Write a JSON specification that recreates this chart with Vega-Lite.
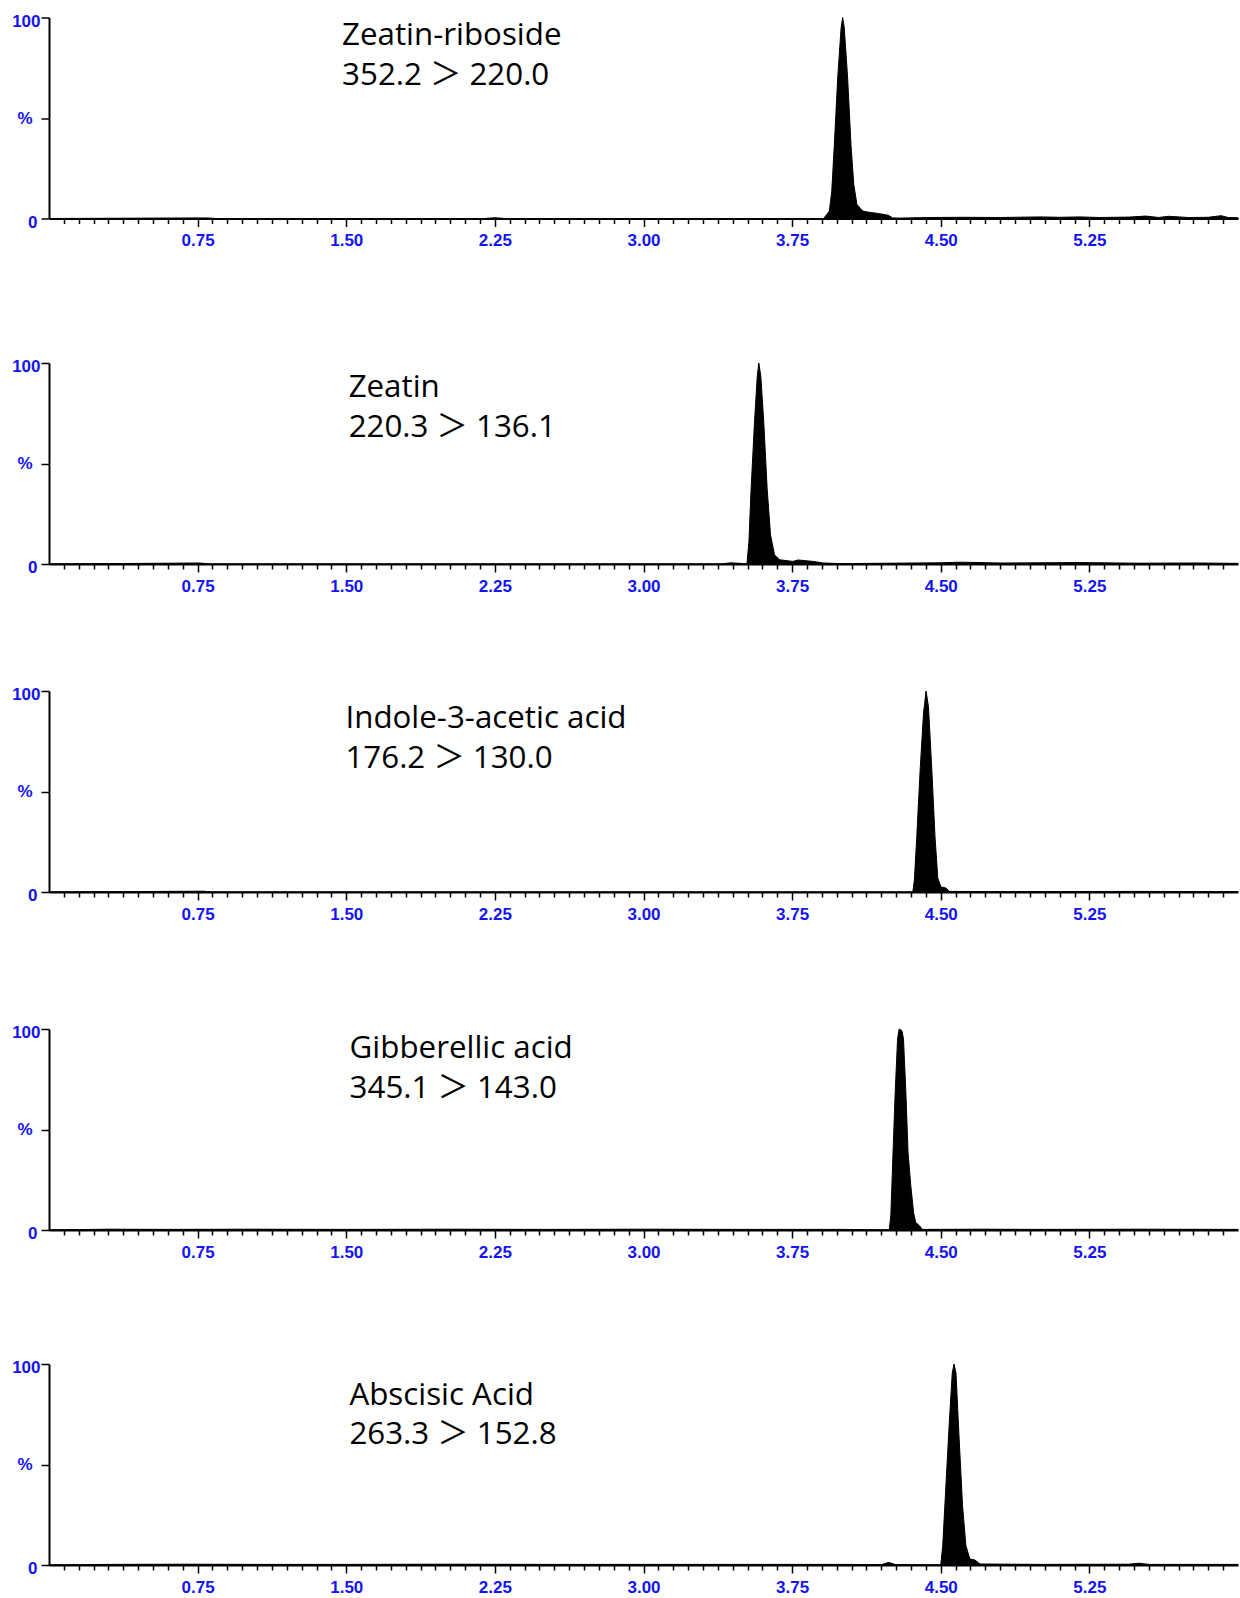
{
  "$schema": "https://vega.github.io/schema/vega-lite/v6.json",
  "padding": {"left": 11, "top": 11.5, "right": 2, "bottom": 0},
  "background": "white",
  "config": {
    "view": {"stroke": null},
    "axis": {
      "domainColor": "black", "domainWidth": 2, "tickColor": "black", "tickWidth": 1.5,
      "labelColor": "#1414f0", "labelFont": "Liberation Sans", "labelFontWeight": "bold", "labelFontSize": 17,
      "grid": false, "title": null, "labelOverlap": false, "labelFlush": false
    },
    "text": {"font": "Open Sans, Noto Sans CJK SC", "fontSize": 31.3, "align": "left", "baseline": "alphabetic", "color": "black"},
    "area": {"color": "black", "stroke": "black", "strokeWidth": 1, "interpolate": "linear"}
  },
  "datasets": {
    "p1": [
      {"t": 0, "pct": 0}, {"t": 0.8, "pct": 0.3}, {"t": 0.84, "pct": 0}, {"t": 2.2, "pct": 0}, {"t": 2.25, "pct": 0.4}, {"t": 2.3, "pct": 0},
      {"t": 3.85, "pct": 0}, {"t": 3.909, "pct": 0}, {"t": 3.938, "pct": 3.7}, {"t": 3.95, "pct": 13.6}, {"t": 3.963, "pct": 36.8},
      {"t": 3.98, "pct": 69.9}, {"t": 3.997, "pct": 94.7}, {"t": 4.005, "pct": 100}, {"t": 4.013, "pct": 95}, {"t": 4.03, "pct": 70},
      {"t": 4.047, "pct": 36.8}, {"t": 4.061, "pct": 17}, {"t": 4.077, "pct": 7}, {"t": 4.106, "pct": 3.7}, {"t": 4.131, "pct": 3.2},
      {"t": 4.198, "pct": 2.3}, {"t": 4.235, "pct": 1.6}, {"t": 4.258, "pct": 0.3}, {"t": 4.3, "pct": 0.2}, {"t": 4.45, "pct": 0.5},
      {"t": 4.6, "pct": 0.6}, {"t": 4.8, "pct": 0.5}, {"t": 5.0, "pct": 0.8}, {"t": 5.1, "pct": 0.6}, {"t": 5.2, "pct": 0.8},
      {"t": 5.3, "pct": 0.5}, {"t": 5.45, "pct": 0.7}, {"t": 5.536, "pct": 1.2}, {"t": 5.6, "pct": 0.5}, {"t": 5.648, "pct": 1.1},
      {"t": 5.75, "pct": 0.5}, {"t": 5.85, "pct": 0.6}, {"t": 5.915, "pct": 1.4}, {"t": 5.95, "pct": 0.5}, {"t": 6.0, "pct": 0.4}
    ],
    "p2": [
      {"t": 0, "pct": 0}, {"t": 0.76, "pct": 0.5}, {"t": 0.81, "pct": 0}, {"t": 3.39, "pct": 0}, {"t": 3.44, "pct": 0.6}, {"t": 3.49, "pct": 0.3},
      {"t": 3.522, "pct": 0}, {"t": 3.532, "pct": 11.2}, {"t": 3.543, "pct": 37.5}, {"t": 3.56, "pct": 70.4}, {"t": 3.574, "pct": 93.4},
      {"t": 3.582, "pct": 100}, {"t": 3.592, "pct": 93.4}, {"t": 3.607, "pct": 70.4}, {"t": 3.624, "pct": 37.5}, {"t": 3.641, "pct": 14.5},
      {"t": 3.661, "pct": 4.6}, {"t": 3.686, "pct": 2.1}, {"t": 3.754, "pct": 1.3}, {"t": 3.78, "pct": 2.0}, {"t": 3.855, "pct": 1.3},
      {"t": 3.906, "pct": 0.5}, {"t": 4.0, "pct": 0.2}, {"t": 4.5, "pct": 0.6}, {"t": 4.6, "pct": 0.9}, {"t": 4.8, "pct": 0.5},
      {"t": 5.0, "pct": 0.6}, {"t": 5.2, "pct": 0.7}, {"t": 5.5, "pct": 0.4}, {"t": 5.8, "pct": 0.5}, {"t": 6.0, "pct": 0.3}
    ],
    "p3": [
      {"t": 0, "pct": 0}, {"t": 0.78, "pct": 0.4}, {"t": 0.82, "pct": 0}, {"t": 4.359, "pct": 0}, {"t": 4.367, "pct": 6.1}, {"t": 4.379, "pct": 27.6},
      {"t": 4.396, "pct": 60.8}, {"t": 4.413, "pct": 88.9}, {"t": 4.426, "pct": 100}, {"t": 4.438, "pct": 92.2}, {"t": 4.455, "pct": 60.8},
      {"t": 4.471, "pct": 27.6}, {"t": 4.485, "pct": 7}, {"t": 4.501, "pct": 2.5}, {"t": 4.526, "pct": 2}, {"t": 4.544, "pct": 0.3},
      {"t": 4.8, "pct": 0.2}, {"t": 5.5, "pct": 0.3}, {"t": 6.0, "pct": 0.2}
    ],
    "p4": [
      {"t": 0, "pct": 0}, {"t": 0.3, "pct": 0.4}, {"t": 0.6, "pct": 0.3}, {"t": 1.0, "pct": 0.4}, {"t": 1.5, "pct": 0.3}, {"t": 2.0, "pct": 0.4},
      {"t": 2.5, "pct": 0.3}, {"t": 3.0, "pct": 0.4}, {"t": 3.5, "pct": 0.3}, {"t": 4.0, "pct": 0.3}, {"t": 4.24, "pct": 0},
      {"t": 4.248, "pct": 7}, {"t": 4.258, "pct": 35.2}, {"t": 4.27, "pct": 68.4}, {"t": 4.282, "pct": 95}, {"t": 4.29, "pct": 100},
      {"t": 4.304, "pct": 99.2}, {"t": 4.312, "pct": 95}, {"t": 4.324, "pct": 68.4}, {"t": 4.335, "pct": 38.5}, {"t": 4.349, "pct": 21.9},
      {"t": 4.363, "pct": 8.6}, {"t": 4.374, "pct": 3.7}, {"t": 4.391, "pct": 2.3}, {"t": 4.408, "pct": 0.3}, {"t": 4.7, "pct": 0.4},
      {"t": 5.0, "pct": 0.3}, {"t": 5.5, "pct": 0.4}, {"t": 6.0, "pct": 0.3}
    ],
    "p5": [
      {"t": 0, "pct": 0}, {"t": 0.3, "pct": 0.3}, {"t": 0.7, "pct": 0.4}, {"t": 1.0, "pct": 0.3}, {"t": 1.5, "pct": 0.3}, {"t": 2.0, "pct": 0.4},
      {"t": 2.5, "pct": 0.3}, {"t": 3.0, "pct": 0.3}, {"t": 3.5, "pct": 0.3}, {"t": 4.0, "pct": 0.3}, {"t": 4.202, "pct": 0.2},
      {"t": 4.237, "pct": 1.3}, {"t": 4.272, "pct": 0.2}, {"t": 4.5, "pct": 0}, {"t": 4.51, "pct": 9.6}, {"t": 4.525, "pct": 37.7},
      {"t": 4.543, "pct": 70.7}, {"t": 4.558, "pct": 95.5}, {"t": 4.567, "pct": 100}, {"t": 4.577, "pct": 95.5}, {"t": 4.593, "pct": 62.5},
      {"t": 4.61, "pct": 29.4}, {"t": 4.627, "pct": 9.6}, {"t": 4.647, "pct": 3}, {"t": 4.672, "pct": 2.5}, {"t": 4.698, "pct": 0.5},
      {"t": 5.0, "pct": 0.3}, {"t": 5.45, "pct": 0.4}, {"t": 5.5, "pct": 0.9}, {"t": 5.55, "pct": 0.3}, {"t": 6.0, "pct": 0.3}
    ],
    "t1": [{"t": 1.479, "pct": 86.5, "label": "Zeatin-riboside"}, {"t": 1.479, "pct": 66.6, "label": "352.2 ＞ 220.0"}],
    "t2": [{"t": 1.512, "pct": 83.1, "label": "Zeatin"}, {"t": 1.512, "pct": 63.3, "label": "220.3 ＞ 136.1"}],
    "t3": [{"t": 1.496, "pct": 81.8, "label": "Indole-3-acetic acid"}, {"t": 1.496, "pct": 61.9, "label": "176.2 ＞ 130.0"}],
    "t4": [{"t": 1.517, "pct": 85.7, "label": "Gibberellic acid"}, {"t": 1.517, "pct": 65.7, "label": "345.1 ＞ 143.0"}],
    "t5": [{"t": 1.516, "pct": 79.8, "label": "Abscisic Acid"}, {"t": 1.516, "pct": 60.0, "label": "263.3 ＞ 152.8"}]
  },
  "spacing": 108.5,
  "vconcat": [
    {
      "width": 1189, "height": 201,
      "resolve": {"axis": {"x": "independent"}},
      "layer": [
        {"data": {"name": "p1"}, "mark": {"type": "area"},
         "encoding": {
           "x": {"field": "t", "type": "quantitative", "scale": {"domain": [0, 6]},
                 "axis": {"orient": "bottom", "values": [0.75, 1.5, 2.25, 3, 3.75, 4.5, 5.25], "format": ".2f", "tickSize": 8, "labelPadding": 6}},
           "y": {"field": "pct", "type": "quantitative", "scale": {"domain": [0, 100]},
                 "axis": {"values": [0, 50, 100], "labelExpr": "datum.value == 50 ? '%' : datum.label", "tickSize": 8,
                          "labelPadding": {"condition": [{"test": "datum.value == 50", "value": 9}, {"test": "datum.value == 0", "value": 4}], "value": 1},
                          "labelOffset": {"condition": {"test": "datum.value == 50", "value": 0}, "value": 3.5}}}
         }},
        {"data": {"name": "t1"}, "mark": {"type": "text"},
         "encoding": {
           "x": {"field": "t", "type": "quantitative",
                 "axis": {"orient": "bottom", "domain": false, "labels": false, "tickSize": 5, "values": [0.075,0.15,0.225,0.3,0.375,0.45,0.525,0.6,0.675,0.825,0.9,0.975,1.05,1.125,1.2,1.275,1.35,1.425,1.575,1.65,1.725,1.8,1.875,1.95,2.025,2.1,2.175,2.325,2.4,2.475,2.55,2.625,2.7,2.775,2.85,2.925,3.075,3.15,3.225,3.3,3.375,3.45,3.525,3.6,3.675,3.825,3.9,3.975,4.05,4.125,4.2,4.275,4.35,4.425,4.575,4.65,4.725,4.8,4.875,4.95,5.025,5.1,5.175,5.325,5.4,5.475,5.55,5.625,5.7,5.775,5.85,5.925]}},
           "y": {"field": "pct", "type": "quantitative"},
           "text": {"field": "label"}}}
      ]
    },
    {
      "spacing": 91,
      "vconcat": [
        {
          "width": 1189, "height": 201,
          "resolve": {"axis": {"x": "independent"}},
          "layer": [
            {"data": {"name": "p2"}, "mark": {"type": "area"},
             "encoding": {
               "x": {"field": "t", "type": "quantitative", "scale": {"domain": [0, 6]},
                     "axis": {"orient": "bottom", "values": [0.75, 1.5, 2.25, 3, 3.75, 4.5, 5.25], "format": ".2f", "tickSize": 8, "labelPadding": 6}},
               "y": {"field": "pct", "type": "quantitative", "scale": {"domain": [0, 100]},
                     "axis": {"values": [0, 50, 100], "labelExpr": "datum.value == 50 ? '%' : datum.label", "tickSize": 8,
                              "labelPadding": {"condition": [{"test": "datum.value == 50", "value": 9}, {"test": "datum.value == 0", "value": 4}], "value": 1},
                              "labelOffset": {"condition": {"test": "datum.value == 50", "value": 0}, "value": 3.5}}}
             }},
            {"data": {"name": "t2"}, "mark": {"type": "text"},
             "encoding": {
               "x": {"field": "t", "type": "quantitative",
                     "axis": {"orient": "bottom", "domain": false, "labels": false, "tickSize": 5, "values": [0.075,0.15,0.225,0.3,0.375,0.45,0.525,0.6,0.675,0.825,0.9,0.975,1.05,1.125,1.2,1.275,1.35,1.425,1.575,1.65,1.725,1.8,1.875,1.95,2.025,2.1,2.175,2.325,2.4,2.475,2.55,2.625,2.7,2.775,2.85,2.925,3.075,3.15,3.225,3.3,3.375,3.45,3.525,3.6,3.675,3.825,3.9,3.975,4.05,4.125,4.2,4.275,4.35,4.425,4.575,4.65,4.725,4.8,4.875,4.95,5.025,5.1,5.175,5.325,5.4,5.475,5.55,5.625,5.7,5.775,5.85,5.925]}},
               "y": {"field": "pct", "type": "quantitative"},
               "text": {"field": "label"}}}
          ]
        },
        {
          "spacing": 101,
          "vconcat": [
            {
              "width": 1189, "height": 201,
              "resolve": {"axis": {"x": "independent"}},
              "layer": [
                {"data": {"name": "p3"}, "mark": {"type": "area"},
                 "encoding": {
                   "x": {"field": "t", "type": "quantitative", "scale": {"domain": [0, 6]},
                         "axis": {"orient": "bottom", "values": [0.75, 1.5, 2.25, 3, 3.75, 4.5, 5.25], "format": ".2f", "tickSize": 8, "labelPadding": 6}},
                   "y": {"field": "pct", "type": "quantitative", "scale": {"domain": [0, 100]},
                         "axis": {"values": [0, 50, 100], "labelExpr": "datum.value == 50 ? '%' : datum.label", "tickSize": 8,
                                  "labelPadding": {"condition": [{"test": "datum.value == 50", "value": 9}, {"test": "datum.value == 0", "value": 4}], "value": 1},
                                  "labelOffset": {"condition": {"test": "datum.value == 50", "value": 0}, "value": 3.5}}}
                 }},
                {"data": {"name": "t3"}, "mark": {"type": "text"},
                 "encoding": {
                   "x": {"field": "t", "type": "quantitative",
                         "axis": {"orient": "bottom", "domain": false, "labels": false, "tickSize": 5, "values": [0.075,0.15,0.225,0.3,0.375,0.45,0.525,0.6,0.675,0.825,0.9,0.975,1.05,1.125,1.2,1.275,1.35,1.425,1.575,1.65,1.725,1.8,1.875,1.95,2.025,2.1,2.175,2.325,2.4,2.475,2.55,2.625,2.7,2.775,2.85,2.925,3.075,3.15,3.225,3.3,3.375,3.45,3.525,3.6,3.675,3.825,3.9,3.975,4.05,4.125,4.2,4.275,4.35,4.425,4.575,4.65,4.725,4.8,4.875,4.95,5.025,5.1,5.175,5.325,5.4,5.475,5.55,5.625,5.7,5.775,5.85,5.925]}},
                   "y": {"field": "pct", "type": "quantitative"},
                   "text": {"field": "label"}}}
              ]
            },
            {
              "spacing": 98,
              "vconcat": [
                {
                  "width": 1189, "height": 201,
                  "resolve": {"axis": {"x": "independent"}},
                  "layer": [
                    {"data": {"name": "p4"}, "mark": {"type": "area"},
                     "encoding": {
                       "x": {"field": "t", "type": "quantitative", "scale": {"domain": [0, 6]},
                             "axis": {"orient": "bottom", "values": [0.75, 1.5, 2.25, 3, 3.75, 4.5, 5.25], "format": ".2f", "tickSize": 8, "labelPadding": 6}},
                       "y": {"field": "pct", "type": "quantitative", "scale": {"domain": [0, 100]},
                             "axis": {"values": [0, 50, 100], "labelExpr": "datum.value == 50 ? '%' : datum.label", "tickSize": 8,
                                      "labelPadding": {"condition": [{"test": "datum.value == 50", "value": 9}, {"test": "datum.value == 0", "value": 4}], "value": 1},
                                      "labelOffset": {"condition": {"test": "datum.value == 50", "value": 0}, "value": 3.5}}}
                     }},
                    {"data": {"name": "t4"}, "mark": {"type": "text"},
                     "encoding": {
                       "x": {"field": "t", "type": "quantitative",
                             "axis": {"orient": "bottom", "domain": false, "labels": false, "tickSize": 5, "values": [0.075,0.15,0.225,0.3,0.375,0.45,0.525,0.6,0.675,0.825,0.9,0.975,1.05,1.125,1.2,1.275,1.35,1.425,1.575,1.65,1.725,1.8,1.875,1.95,2.025,2.1,2.175,2.325,2.4,2.475,2.55,2.625,2.7,2.775,2.85,2.925,3.075,3.15,3.225,3.3,3.375,3.45,3.525,3.6,3.675,3.825,3.9,3.975,4.05,4.125,4.2,4.275,4.35,4.425,4.575,4.65,4.725,4.8,4.875,4.95,5.025,5.1,5.175,5.325,5.4,5.475,5.55,5.625,5.7,5.775,5.85,5.925]}},
                       "y": {"field": "pct", "type": "quantitative"},
                       "text": {"field": "label"}}}
                  ]
                },
                {
                  "width": 1189, "height": 201,
                  "resolve": {"axis": {"x": "independent"}},
                  "layer": [
                    {"data": {"name": "p5"}, "mark": {"type": "area"},
                     "encoding": {
                       "x": {"field": "t", "type": "quantitative", "scale": {"domain": [0, 6]},
                             "axis": {"orient": "bottom", "values": [0.75, 1.5, 2.25, 3, 3.75, 4.5, 5.25], "format": ".2f", "tickSize": 8, "labelPadding": 6}},
                       "y": {"field": "pct", "type": "quantitative", "scale": {"domain": [0, 100]},
                             "axis": {"values": [0, 50, 100], "labelExpr": "datum.value == 50 ? '%' : datum.label", "tickSize": 8,
                                      "labelPadding": {"condition": [{"test": "datum.value == 50", "value": 9}, {"test": "datum.value == 0", "value": 4}], "value": 1},
                                      "labelOffset": {"condition": {"test": "datum.value == 50", "value": 0}, "value": 3.5}}}
                     }},
                    {"data": {"name": "t5"}, "mark": {"type": "text"},
                     "encoding": {
                       "x": {"field": "t", "type": "quantitative",
                             "axis": {"orient": "bottom", "domain": false, "labels": false, "tickSize": 5, "values": [0.075,0.15,0.225,0.3,0.375,0.45,0.525,0.6,0.675,0.825,0.9,0.975,1.05,1.125,1.2,1.275,1.35,1.425,1.575,1.65,1.725,1.8,1.875,1.95,2.025,2.1,2.175,2.325,2.4,2.475,2.55,2.625,2.7,2.775,2.85,2.925,3.075,3.15,3.225,3.3,3.375,3.45,3.525,3.6,3.675,3.825,3.9,3.975,4.05,4.125,4.2,4.275,4.35,4.425,4.575,4.65,4.725,4.8,4.875,4.95,5.025,5.1,5.175,5.325,5.4,5.475,5.55,5.625,5.7,5.775,5.85,5.925]}},
                       "y": {"field": "pct", "type": "quantitative"},
                       "text": {"field": "label"}}}
                  ]
                }
              ]
            }
          ]
        }
      ]
    }
  ]
}
